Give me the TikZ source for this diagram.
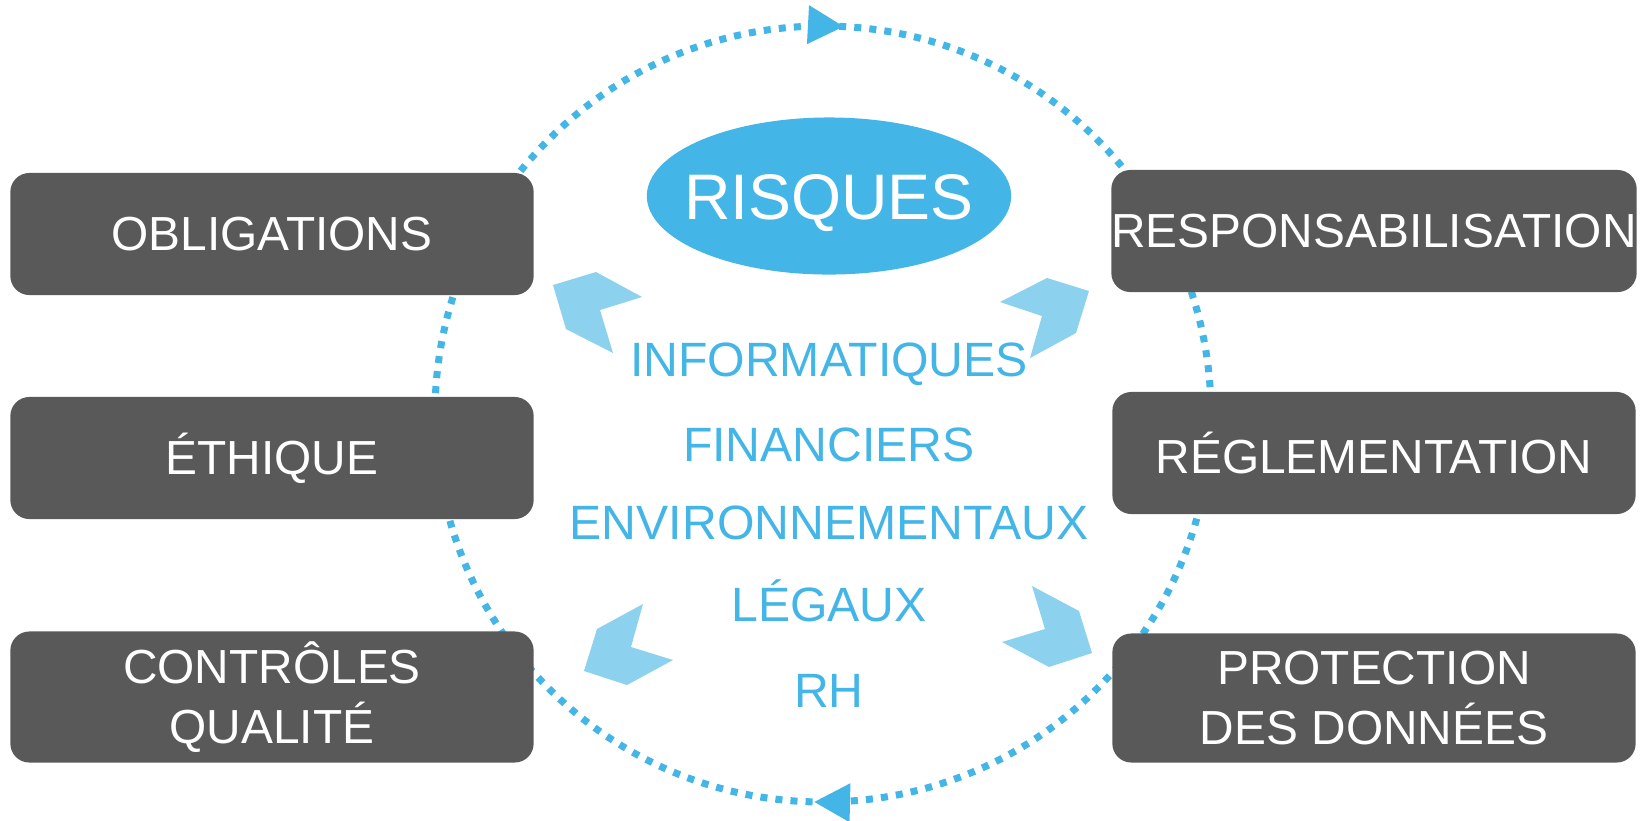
\documentclass[tikz,border=0pt]{standalone}
\usepackage{fontspec}
\setmainfont{Liberation Sans}
\usetikzlibrary{shapes.geometric,decorations.markings,arrows.meta}
\definecolor{boxgray}{HTML}{595959}
\definecolor{riskblue}{HTML}{43B5E6}
\definecolor{chevblue}{HTML}{8CD1EE}
\begin{document}
\begin{tikzpicture}[x=0.01cm, y=-0.01cm,
    topic/.style={fill=boxgray, rounded corners=0.19cm, text=white, align=center,
        minimum width=5.23cm, minimum height=1.22cm, inner sep=0pt,
        font=\fontsize{13.6}{17}\selectfont},
    kind/.style={text=riskblue, inner sep=0pt, text height=9.8pt, text depth=0pt,
        font=\fontsize{13.7}{16}\selectfont},
    chevron/.style={fill=chevblue}]
    \useasboundingbox (0,0) rectangle (1647,820);

    % dotted cycle round the risks
    \coordinate (hub) at (823,414);
    \draw[riskblue, line width=2pt, dash pattern=on 2pt off 2.3pt,
        decoration={markings,
            mark=at position 0.2537 with {\arrow{Triangle[length=0.36cm, width=0.37cm]}},
            mark=at position 0.7586 with {\arrow{Triangle[length=0.36cm, width=0.37cm]}}},
        postaction={decorate}] (hub) circle[radius=388];

    \fill[chevron] (553,285) -- (596,272) -- (642,297) -- (600,310) -- (613,353) -- (566,329) -- cycle;
    \fill[chevron] (1000,302) -- (1047,278) -- (1089,291) -- (1076,333) -- (1030,358) -- (1042,316) -- cycle;
    \fill[chevron] (643,604) -- (597,629) -- (584,671) -- (627,685) -- (673,660) -- (631,647) -- cycle;
    \fill[chevron] (1032,586) -- (1079,611) -- (1092,653) -- (1049,667) -- (1002,642) -- (1045,629) -- cycle;

    \node[ellipse, fill=riskblue, text=white, inner xsep=-0.16cm, inner ysep=0pt,
        text height=13.1pt, text depth=0pt,
        minimum width=3.59cm, minimum height=1.57cm,
        font=\fontsize{18.3}{20}\selectfont] (risques) at (829,196) {RISQUES};

    \node[kind] (info) at (829,359) {INFORMATIQUES};
    \node[kind] (fin) at (829,444) {FINANCIERS};
    \node[kind] (env) at (829,522) {ENVIRONNEMENTAUX};
    \node[kind] (leg) at (829,604) {LÉGAUX};
    \node[kind] (rh) at (829,690) {RH};

    \node[topic] (oblig) at (272,234) {OBLIGATIONS};
    \node[topic] (ethique) at (272,458) {ÉTHIQUE};
    \node[topic, minimum height=1.31cm] (qualite) at (272,697) {CONTRÔLES\\QUALITÉ};
    \node[topic] (respons) at (1374,231) {RESPONSABILISATION};
    \node[topic] (regl) at (1374,453) {RÉGLEMENTATION};
    \node[topic, minimum height=1.29cm] (donnees) at (1374,698) {PROTECTION\\DES DONNÉES};
\end{tikzpicture}
\end{document}
